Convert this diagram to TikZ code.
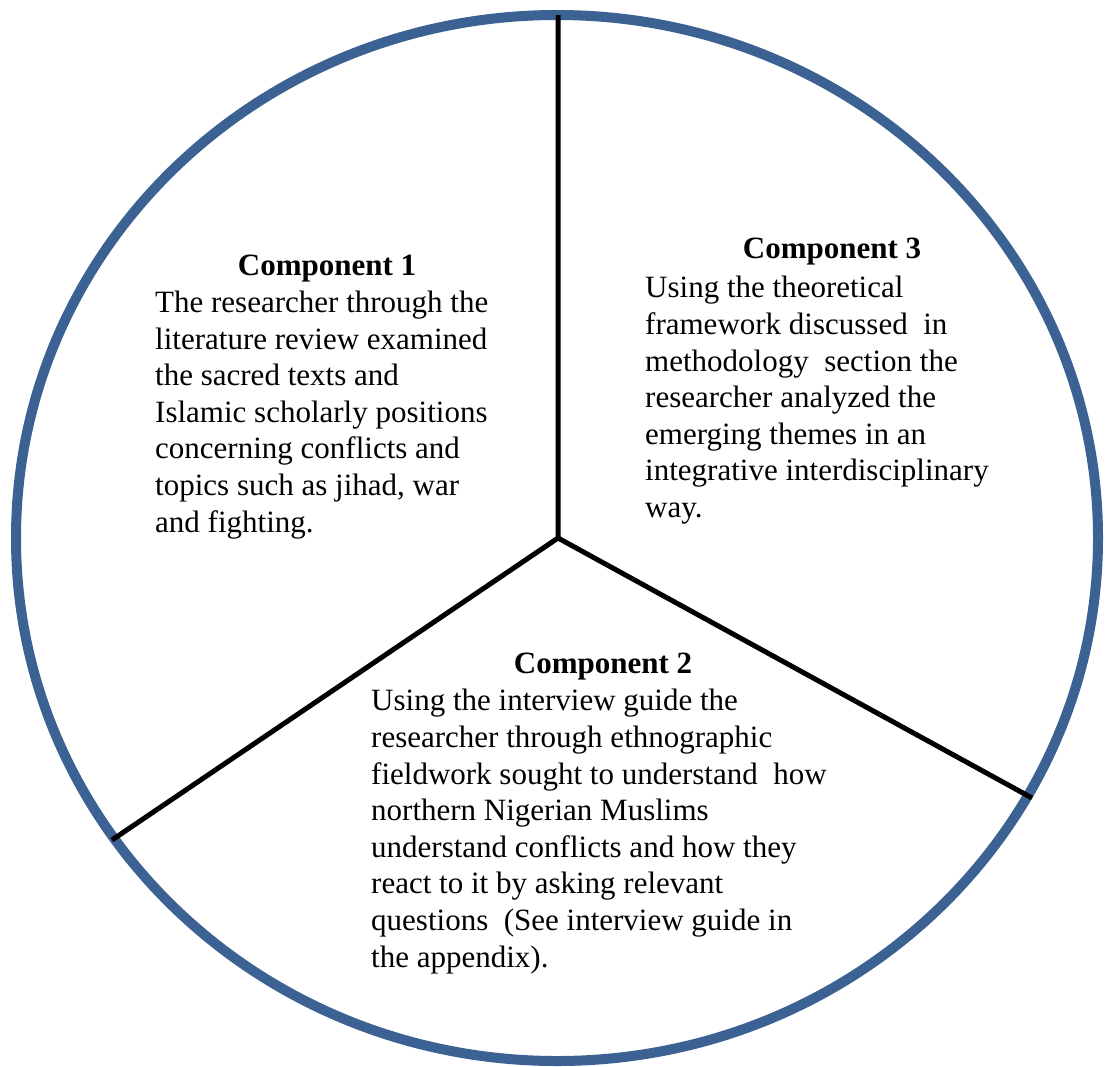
\documentclass[tikz,border=0pt]{standalone}
\usepackage{fontspec}
\setmainfont{Liberation Serif}
\definecolor{ringblue}{RGB}{59,98,146}

\begin{document}
\begin{tikzpicture}[x=1pt,y=-1pt]
	\tikzset{ring/.style={draw=ringblue,line width=10pt}}
	\tikzset{spoke/.style={draw=black,line width=5pt}}
	\tikzset{heading/.style={font=\fontsize{31}{36.6}\selectfont\bfseries,anchor=base,inner sep=0pt}}
	% base of a multi-line node is the baseline of its last line
	\tikzset{blurb/.style={font=\fontsize{31}{36.6}\selectfont,align=left,anchor=base west,inner sep=0pt}}
	\useasboundingbox (0,0) rectangle (1107,1066);
	% outer ring and the three spokes
	\draw[ring] (557,538) ellipse [x radius=541, y radius=523];
	\coordinate (hub) at (558,538);
	\coordinate (topend) at (558,15);
	\coordinate (leftend) at (112,840);
	\coordinate (rightend) at (1032,798);
	\draw[spoke] (topend) -- (hub) -- (leftend);
	\draw[spoke] (hub) -- (rightend);
	% component texts
	\node[heading] (head1) at (327,275) {Component 1};
	\node[blurb] (body1) at (155,532) {The researcher through the\\literature review examined\\the sacred texts and\\Islamic scholarly positions\\concerning conflicts and\\topics such as jihad, war\\and fighting.};
	\node[heading] (head3) at (832,258.3) {Component 3};
	\node[blurb] (body3) at (645,517.5) {Using the theoretical\\framework discussed \ in\\methodology \ section the\\researcher analyzed the\\emerging themes in an\\integrative interdisciplinary\\way.};
	\node[heading] (head2) at (603,673.3) {Component 2};
	\node[blurb] (body2) at (371,967) {Using the interview guide the\\researcher through ethnographic\\fieldwork sought to understand \ how\\northern Nigerian Muslims\\understand conflicts and how they\\react to it by asking relevant\\questions \ (See interview guide in\\the appendix).};
\end{tikzpicture}
\end{document}
